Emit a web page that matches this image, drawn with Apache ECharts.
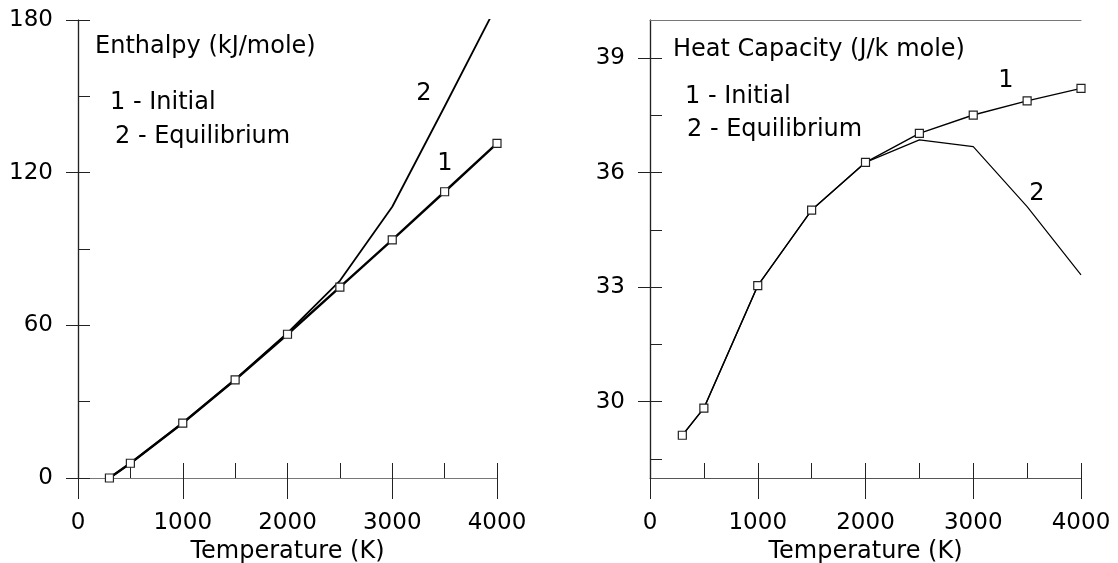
<!DOCTYPE html>
<html>
<head>
<meta charset="utf-8">
<title>Enthalpy and heat capacity</title>
<script src="https://cdn.jsdelivr.net/npm/echarts@6/dist/echarts.min.js"></script>
<style>
    html, body { margin: 0; padding: 0; background: #fff; }
    #chart { width: 1118px; height: 563px; }
</style>
</head>
<body>
<div id="chart"></div>
<script>
// temperatures of the computed points (K)
let temps = [300, 500, 1000, 1500, 2000, 2500, 3000, 3500, 4000];

// enthalpy, kJ/mole
let enthalpyInitial = [0, 5.8, 21.6, 38.6, 56.5, 75.0, 93.6, 112.5, 131.5];
let enthalpyEquilibrium = [0, 5.8, 21.6, 38.7, 57.0, 77.5, 106.6, 146.0, 186.0];

// heat capacity, J/k mole
let cpInitial = [29.12, 29.83, 33.04, 35.02, 36.27, 37.03, 37.51, 37.88, 38.21];
let cpEquilibrium = [29.12, 29.83, 33.04, 35.02, 36.27, 36.86, 36.68, 35.11, 33.32];

// ticks
let tempLabels = [0, 1000, 2000, 3000, 4000];
let tempMinor = [0, 500, 1000, 1500, 2000, 2500, 3000, 3500, 4000];
let enthalpyLabels = [0, 60, 120, 180];
let enthalpyMinor = [0, 30, 60, 90, 120, 150, 180];
let cpLabels = [30, 33, 36, 39];
let cpMinor = [28.5, 30, 31.5, 33, 34.5, 36, 37.5, 39];

let FONT = 'DejaVu Sans';

function pairs(xs, ys) {
    let out = [];
    for (let i = 0; i < xs.length; i++) {
        out.push([xs[i], ys[i]]);
    }
    return out;
}

let lineColor = '#555';
let tickColor = '#222';
let plain = function (v) { return String(v); };

// one panel = 3 x axes (labels/outer ticks, inner ticks, top border) + 3 y axes
function xAxes(grid) {
    return [{
        type: 'value', gridIndex: grid, min: 0, max: 4000, position: 'bottom',
        axisLine: { show: true, lineStyle: { color: lineColor, width: 1.2 } },
        axisTick: { show: true, inside: false, length: 21, customValues: tempLabels, lineStyle: { color: tickColor } },
        axisLabel: { customValues: tempLabels, formatter: plain, fontFamily: FONT, fontSize: 23, color: '#000', margin: 34 },
        splitLine: { show: false },
        name: 'Temperature (K)', nameLocation: 'middle', nameGap: 55,
        nameTextStyle: { fontFamily: FONT, fontSize: 24, color: '#000' }
    }, {
        type: 'value', gridIndex: grid, min: 0, max: 4000, position: 'bottom',
        axisLine: { show: false },
        axisTick: { show: true, inside: true, length: 15, customValues: tempMinor, lineStyle: { color: tickColor } },
        axisLabel: { show: false },
        splitLine: { show: false }
    }, {
        type: 'value', gridIndex: grid, min: 0, max: 4000, position: 'top',
        axisLine: { show: true, lineStyle: { color: '#777', width: 1 } },
        axisTick: { show: false }, axisLabel: { show: false }, splitLine: { show: false }
    }];
}

function yAxes(grid, min, max, labels, minor) {
    return [{
        type: 'value', gridIndex: grid, min: min, max: max, position: 'left',
        axisLine: { show: true, lineStyle: { color: lineColor, width: 1.2 } },
        axisTick: { show: true, inside: false, length: 12, customValues: labels, lineStyle: { color: tickColor } },
        axisLabel: { customValues: labels, formatter: plain, fontFamily: FONT, fontSize: 23, color: '#000', margin: 25 },
        splitLine: { show: false }
    }, {
        type: 'value', gridIndex: grid, min: min, max: max, position: 'left',
        axisLine: { show: false },
        axisTick: { show: true, inside: true, length: 12, customValues: minor, lineStyle: { color: tickColor } },
        axisLabel: { show: false },
        splitLine: { show: false }
    }, {
        type: 'value', gridIndex: grid, min: min, max: max, position: 'right',
        axisLine: { show: true, lineStyle: { color: '#222', width: 1.2 } },
        axisTick: { show: false }, axisLabel: { show: false }, splitLine: { show: false }
    }];
}

function markedLine(data, xi, yi, width) {
    return {
        type: 'line', xAxisIndex: xi, yAxisIndex: yi, data: data, z: 3,
        symbol: 'rect', symbolSize: 8, showSymbol: true,
        lineStyle: { color: '#000', width: width },
        itemStyle: { color: '#fff', borderColor: '#222', borderWidth: 1.2 }
    };
}

function plainLine(data, xi, yi, width) {
    return {
        type: 'line', xAxisIndex: xi, yAxisIndex: yi, data: data, z: 2,
        symbol: 'none',
        lineStyle: { color: '#000', width: width }
    };
}

function note(text, x, y, size, align) {
    return {
        type: 'text', x: x, y: y, z: 10,
        style: {
            text: text, fontFamily: FONT, fontSize: size, fill: '#000',
            align: align || 'left', verticalAlign: 'middle'
        }
    };
}

let chart = echarts.init(document.getElementById('chart'));
chart.setOption({
    animation: false,
    backgroundColor: '#fff',
    grid: [
        { left: 78, top: 20, width: 419, height: 458, outerBoundsMode: 'none', containLabel: false },
        { left: 650, top: 20, width: 431, height: 458, outerBoundsMode: 'none', containLabel: false }
    ],
    xAxis: xAxes(0).concat(xAxes(1)),
    yAxis: yAxes(0, 0, 180, enthalpyLabels, enthalpyMinor)
        .concat(yAxes(1, 28, 40, cpLabels, cpMinor)),
    series: [
        plainLine(pairs(temps, enthalpyEquilibrium), 0, 0, 1.8),
        markedLine(pairs(temps, enthalpyInitial), 0, 0, 2.4),
        plainLine(pairs(temps, cpEquilibrium), 3, 3, 1.2),
        markedLine(pairs(temps, cpInitial), 3, 3, 1.4)
    ],
    graphic: [
        note('Enthalpy (kJ/mole)', 95, 47, 24),
        note('1 - Initial', 110, 103, 24),
        note('2 - Equilibrium', 115, 137, 24),
        note('2', 424, 94, 24, 'center'),
        note('1', 445, 164, 24, 'center'),
        note('Heat Capacity (J/k mole)', 673, 50, 24),
        note('1 - Initial', 685, 97, 24),
        note('2 - Equilibrium', 687, 130, 24),
        note('1', 1006, 81, 24, 'center'),
        note('2', 1037, 194, 24, 'center')
    ]
});
</script>
</body>
</html>
